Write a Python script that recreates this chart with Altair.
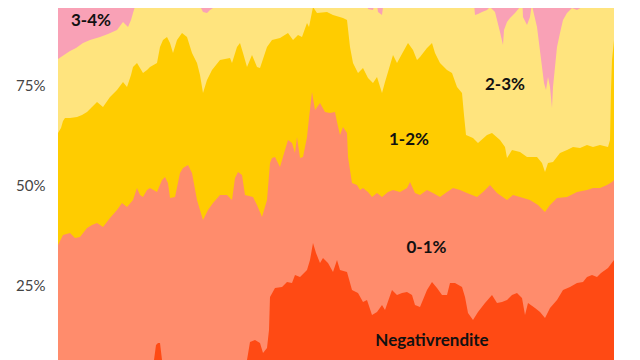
import altair as alt
import pandas as pd

# Categories (bottom to top) and colours
categories = ["Negativrendite", "0-1%", "1-2%", "2-3%", "3-4%"]
colors = ["#FF4A14", "#FF8C6C", "#FFCC00", "#FFE47E", "#F9A1B6"]

# Cumulative share (%) at the top of each band: (time step, %)
top_neg = [(0, 2.5), (92, 2.5), (96, 6.25), (98, 10), (100, 10.5), (102, 10.5), (104, 6.25), (106, 2.5),
           (187, 3.25), (189, 6.25), (192, 10.75), (197, 11.25), (202, 10.5), (205, 8), (209, 9.25),
           (211, 13.75), (212, 22), (217, 24.25), (224, 24.5), (229, 25.75), (234, 25.5), (237, 27.5),
           (242, 27), (249, 28.75), (252, 31.25), (255, 35.5), (258, 33), (262, 30.5), (265, 31.75),
           (270, 30.5), (275, 28.25), (279, 31.25), (282, 28.75), (289, 28.25), (294, 23.75), (300, 23),
           (305, 20.75), (309, 21.25), (314, 17.5), (319, 18.25), (324, 20), (327, 18.75), (334, 23.75),
           (339, 22.5), (344, 23), (349, 23.25), (354, 22.5), (357, 20), (362, 19.5), (369, 23.75),
           (374, 25.75), (379, 24.25), (384, 22.5), (389, 22.5), (392, 25.5), (397, 25.5), (404, 24.5),
           (407, 22), (410, 18), (415, 16.25), (420, 18.25), (427, 20.5), (434, 22.5), (439, 20.5),
           (444, 20.75), (449, 21.25), (454, 22.5), (459, 23), (464, 21.75), (467, 17.5), (470, 20.5),
           (477, 19.25), (482, 18.25), (487, 16.75), (492, 19.25), (499, 21.25), (505, 23.75),
           (512, 24.5), (519, 25.5), (525, 25.75), (529, 27), (534, 27.5), (539, 27), (543, 28),
           (550, 29.25), (556, 31.25)]

top_0_1 = [(0, 35), (5, 37.5), (12, 38), (17, 36.75), (22, 37), (29, 39.25), (34, 40), (39, 40.5),
           (45, 39.5), (52, 41.75), (59, 43.75), (64, 45.5), (69, 44.5), (75, 46.25), (79, 49.25),
           (82, 47.5), (85, 47), (89, 48.75), (92, 49.25), (99, 48.25), (104, 51.25), (107, 52),
           (110, 50.5), (112, 46.75), (117, 47), (122, 53), (125, 54.25), (130, 55), (134, 53),
           (139, 46.25), (145, 41.25), (150, 43.75), (155, 45.5), (162, 47.5), (169, 47.5), (174, 46.25),
           (177, 51.75), (180, 53.25), (184, 52.5), (187, 47.5), (195, 47), (199, 45), (204, 42),
           (209, 46.25), (212, 55.5), (214, 56.75), (217, 57), (222, 54.5), (227, 58.75), (230, 61.25),
           (234, 60.5), (237, 58), (239, 62), (242, 56.75), (245, 57), (249, 62), (251, 66.75),
           (254, 73.25), (257, 68.75), (262, 70.5), (267, 68.25), (272, 68), (277, 68.25), (279, 65.75),
           (282, 62.5), (285, 64.5), (289, 63), (290, 57), (294, 50.5), (299, 50), (302, 48.75),
           (305, 49.25), (310, 48.25), (314, 47), (319, 48), (324, 47), (330, 48.25), (335, 48.75),
           (342, 48.25), (349, 49.25), (352, 50.75), (357, 48), (362, 47.5), (369, 48.75), (375, 48),
           (382, 47), (389, 48.25), (395, 49.25), (402, 48.75), (409, 48), (419, 47), (425, 48.25),
           (432, 50), (439, 48), (449, 46.25), (455, 47.5), (462, 47), (472, 46.25), (480, 45),
           (487, 43.25), (492, 45), (499, 46.75), (509, 47), (519, 48.25), (529, 48.75), (535, 49.25),
           (542, 49.25), (549, 50), (554, 50.75), (556, 51.25)]

top_1_2 = [(0, 63), (3, 64.25), (5, 66), (7, 66.75), (12, 66.75), (19, 67), (24, 67.5), (29, 68.25),
           (34, 69.5), (39, 70.75), (45, 69.5), (52, 72), (59, 73.75), (65, 75.75), (69, 74.5),
           (73, 77.5), (75, 79.5), (79, 80.5), (82, 79.25), (85, 78), (89, 78.75), (92, 79.5), (99, 80.5),
           (102, 84.5), (105, 86.25), (109, 87), (112, 85.5), (115, 83), (119, 86.25), (124, 88),
           (129, 87), (134, 83), (139, 80.5), (142, 77.5), (145, 73), (149, 76.25), (154, 78.75),
           (162, 81.25), (172, 81.75), (174, 80.5), (179, 84.5), (182, 85.5), (185, 83), (189, 79.5),
           (194, 82.5), (199, 79.5), (202, 79.25), (209, 84.5), (214, 86.25), (222, 86.75), (230, 88),
           (235, 86.25), (240, 87.5), (244, 87), (249, 90.5), (251, 89.5), (255, 94.5), (259, 93),
           (269, 93.25), (275, 92.5), (285, 91.75), (289, 91.25), (292, 84.5), (295, 80.5), (300, 78),
           (305, 79.25), (310, 76.75), (315, 75.5), (319, 77), (324, 73), (327, 75.75), (330, 78.25),
           (335, 82.5), (339, 80.5), (345, 83.25), (350, 85.5), (355, 83.75), (359, 81.25), (362, 82),
           (369, 84.25), (374, 85.5), (377, 83), (382, 80.5), (389, 78.75), (394, 78), (399, 74.5),
           (404, 73), (406, 67.5), (408, 62.5), (415, 61.75), (420, 60.5), (429, 62.5), (434, 63),
           (442, 61.25), (447, 59.5), (449, 56.75), (454, 58.75), (462, 58.25), (469, 57), (479, 57),
           (484, 55.5), (487, 53.25), (490, 55.5), (495, 55.75), (502, 58), (509, 58.75), (515, 59.5),
           (522, 59.25), (529, 60), (535, 59.5), (542, 60), (550, 59.5), (552, 61.25), (553, 73.75),
           (554, 81.25), (556, 86.25)]

top_2_3 = [(0, 81.5), (6, 82.5), (12, 83.5), (18, 84.25), (25, 85.5), (32, 86.25), (42, 87), (50, 87.75),
           (59, 88.75), (62, 89.75), (65, 90.75), (68, 90), (70, 89.5), (73, 91.25), (75, 93), (78, 95.5),
           (80, 98.25), (82, 95.75), (85, 95), (88, 95.5), (90, 98.25), (133, 98.25), (135, 95),
           (139, 94.25), (142, 94.75), (145, 93.25), (149, 93), (152, 93.75), (155, 94.25), (157, 98.25),
           (298, 98.25), (300, 94.5), (303, 94.25), (305, 98.25), (308, 98.25), (310, 94), (315, 93.75),
           (318, 97), (320, 93.25), (324, 92.5), (327, 98.25), (415, 98.25), (417, 92.5), (420, 92.75),
           (424, 93.25), (429, 93.75), (432, 94.5), (437, 93.25), (439, 91.25), (442, 88.25), (445, 85),
           (446, 88.75), (449, 90.75), (452, 91.75), (457, 93), (462, 94.5), (464, 98.25), (465, 92),
           (469, 90), (472, 92), (474, 95.5), (475, 93.75), (479, 89.5), (481, 85.5), (484, 79.5),
           (486, 75.5), (488, 73.75), (490, 77), (492, 74.5), (494, 69.25), (495, 74.5), (497, 79.5),
           (499, 84.5), (502, 88), (505, 91.25), (509, 93), (514, 94.25), (519, 93.75), (524, 94.5),
           (527, 94.25), (530, 95.75), (532, 98.25), (556, 98.25)]

top_3_4 = [(0, 100), (556, 100)]

# Label positions (time step, %)
label_t = [33, 447, 351, 368.5, 374]
label_v = [90.95, 74.9, 61.25, 34.25, 11.1]
label_text = ["3-4%", "2-3%", "1-2%", "0-1%", "Negativrendite"]

Y_DOMAIN = [6.25, 94.25]

def band(points, color):
    df = pd.DataFrame(points, columns=["t", "v"])
    return alt.Chart(df).mark_area(color=color, clip=True, interpolate="linear").encode(
        x=alt.X("t:Q", axis=None, scale=alt.Scale(domain=[0, 556], nice=False, zero=False)),
        y=alt.Y("v:Q", scale=alt.Scale(domain=Y_DOMAIN, nice=False, zero=False),
                axis=alt.Axis(values=[25, 50, 75], labelExpr="datum.value + '%'", title=None,
                              domain=False, ticks=False, grid=False, labelPadding=13,
                              labelFontSize=15, labelFont="Lato", labelColor="#444444")),
    )

layers = [
    band(top_3_4, colors[4]),
    band(top_2_3, colors[3]),
    band(top_1_2, colors[2]),
    band(top_0_1, colors[1]),
    band(top_neg, colors[0]),
]

labels_df = pd.DataFrame({"t": label_t, "v": label_v, "label": label_text})
labels = alt.Chart(labels_df).mark_text(
    font="Lato", fontWeight="bold", fontSize=17, color="#111111", align="center", baseline="middle"
).encode(
    x=alt.X("t:Q", axis=None, scale=alt.Scale(domain=[0, 556], nice=False, zero=False)),
    y=alt.Y("v:Q", scale=alt.Scale(domain=Y_DOMAIN, nice=False, zero=False)),
    text="label:N",
)

chart = alt.layer(*layers, labels).properties(
    width=556, height=352,
    autosize=alt.AutoSizeParams(type="none"),
    padding={"left": 50, "top": 0, "right": 10, "bottom": 0},
    background="white",
).configure_view(stroke=None)

chart.save("out.html", embed_options={"renderer": "svg", "actions": False})
